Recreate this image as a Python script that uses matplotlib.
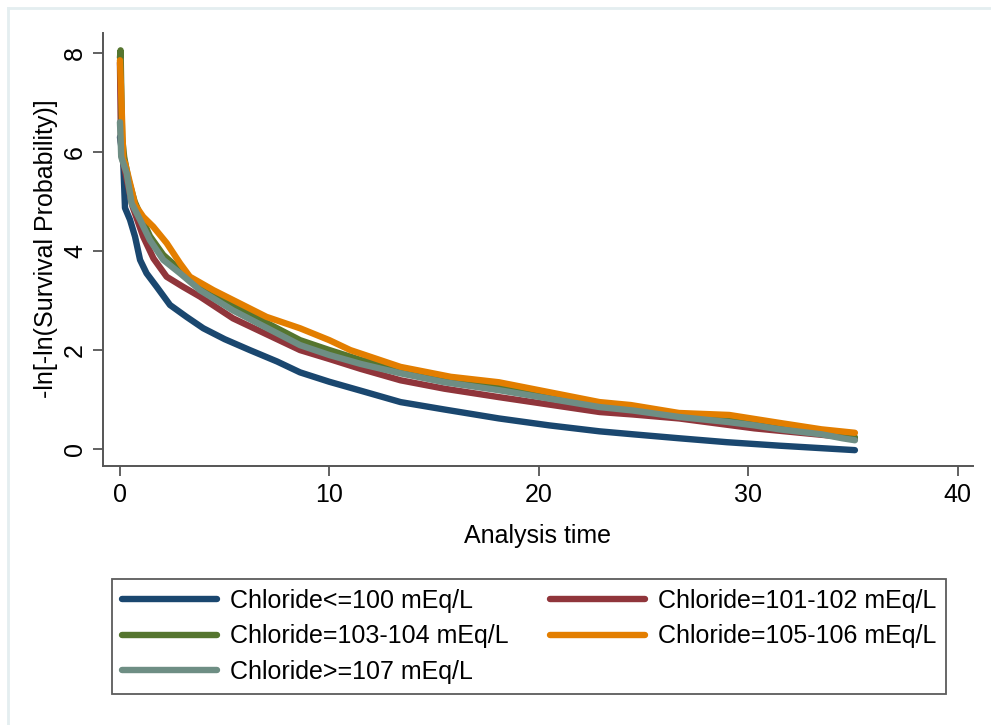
import matplotlib
matplotlib.use("Agg")
import matplotlib.pyplot as plt
from matplotlib.lines import Line2D

plt.rcParams['font.family'] = ['Liberation Sans', 'DejaVu Sans']

# -ln[-ln(S(t))] curves by chloride group
t_le100 = [0, 0.1, 0.16, 0.24, 0.48, 0.72, 0.96, 1.27, 1.75, 2.39, 3.18, 3.98, 5.0, 6.2, 7.5,
           8.6, 10, 11.5, 13.4, 15.5, 18.1, 20.5, 22.9, 24.5, 26.7, 29, 31.5, 33.5, 35.1]
v_le100 = [6.3, 6.0, 5.77, 4.87, 4.63, 4.29, 3.82, 3.55, 3.28, 2.91, 2.67, 2.44, 2.22, 2.0, 1.77,
           1.55, 1.36, 1.18, 0.95, 0.8, 0.62, 0.48, 0.36, 0.3, 0.22, 0.14, 0.07, 0.02, -0.02]

t_101_102 = [0, 0.05, 0.15, 0.3, 0.6, 1.11, 1.6, 2.23, 3.0, 3.82, 5.4, 7.0, 8.6, 10, 11.5,
             13.4, 15.5, 18.1, 20.5, 22.9, 24.5, 26.7, 28.5, 30.3, 32.5, 34.5, 35.1]
v_101_102 = [7.8, 6.2, 5.8, 5.5, 4.9, 4.29, 3.85, 3.48, 3.28, 3.08, 2.64, 2.32, 2.0, 1.82, 1.62,
             1.39, 1.22, 1.05, 0.9, 0.75, 0.7, 0.62, 0.52, 0.42, 0.33, 0.25, 0.2]

t_103_104 = [0, 0.03, 0.1, 0.2, 0.4, 0.7, 1.0, 1.43, 2.07, 2.87, 3.82, 5.4, 7.0, 8.6, 10, 11.5,
             13.4, 15.5, 18.1, 20.5, 22.9, 24.5, 26.7, 29, 31.5, 33.5, 34.5, 35.1]
v_103_104 = [7.9, 8.05, 6.3, 5.9, 5.45, 5.0, 4.7, 4.3, 3.92, 3.62, 3.3, 2.9, 2.55, 2.2, 2.0, 1.8,
             1.6, 1.42, 1.25, 1.08, 0.9, 0.82, 0.7, 0.6, 0.47, 0.37, 0.3, 0.24]

t_105_106 = [0, 0.05, 0.16, 0.24, 0.56, 0.72, 1.11, 1.59, 2.23, 2.87, 3.34, 4.46, 5.73, 7.0,
             8.6, 10, 11.0, 13.4, 15.8, 18.1, 20.5, 22.9, 24.4, 26.7, 29.1, 31.5, 33.5, 35.1]
v_105_106 = [7.85, 7.3, 5.85, 5.78, 5.23, 4.93, 4.69, 4.49, 4.16, 3.75, 3.48, 3.21, 2.94, 2.67,
             2.44, 2.2, 2.0, 1.66, 1.46, 1.35, 1.15, 0.95, 0.89, 0.73, 0.69, 0.53, 0.4, 0.33]

t_ge107 = [0, 0.03, 0.06, 0.32, 0.56, 0.96, 1.43, 2.07, 2.87, 3.82, 5.4, 7.0, 8.6, 10, 11.5,
           13.4, 15.5, 18.1, 20.5, 22.9, 24.5, 26.7, 29, 30.3, 31.5, 33.5, 34.5, 35.1]
v_ge107 = [6.6, 6.3, 5.9, 5.57, 4.96, 4.63, 4.22, 3.82, 3.55, 3.21, 2.8, 2.45, 2.1, 1.9, 1.72,
           1.53, 1.35, 1.19, 1.02, 0.85, 0.78, 0.65, 0.55, 0.48, 0.4, 0.3, 0.22, 0.18]

labels = ["Chloride<=100 mEq/L", "Chloride=101-102 mEq/L", "Chloride=103-104 mEq/L",
          "Chloride=105-106 mEq/L", "Chloride>=107 mEq/L"]
colors = ["#1a476f", "#90353b", "#55752f", "#e37e00", "#6e8e84"]
series = [(t_le100, v_le100), (t_101_102, v_101_102), (t_103_104, v_103_104),
          (t_105_106, v_105_106), (t_ge107, v_ge107)]

x_ticks = [0, 10, 20, 30, 40]
y_ticks = [0, 2, 4, 6, 8]

FS = 18
W, H = 991, 725
fig = plt.figure(figsize=(W / 100, H / 100), dpi=100)
fig.patch.set_facecolor("white")

# faint outer graph-region frame
fig.add_artist(Line2D([7.5 / W, 1.0], [1 - 7.5 / H] * 2, transform=fig.transFigure,
                      color="#e4eef0", lw=2))
fig.add_artist(Line2D([7.5 / W] * 2, [0.0, 1 - 7.5 / H], transform=fig.transFigure,
                      color="#e4eef0", lw=2))

ax = fig.add_axes([103 / W, 1 - 466 / H, 870 / W, 433 / H])
lines = []
for (t, v), c, lab in zip(series, colors, labels):
    ln, = ax.plot(t, v, color=c, lw=4.6, label=lab, solid_capstyle="round",
                  solid_joinstyle="round")
    lines.append(ln)

ax.set_xlim(-0.81, 40.74)
ax.set_ylim(-0.34, 8.4)
ax.set_xticks(x_ticks)
ax.set_yticks(y_ticks)
for s in ["top", "right"]:
    ax.spines[s].set_visible(False)
for s in ["left", "bottom"]:
    ax.spines[s].set_color("#555555")
    ax.spines[s].set_linewidth(1.4)
ax.tick_params(axis="both", colors="#555555", length=7.5, width=1.3, labelsize=FS,
               labelcolor="black")
ax.tick_params(axis="x", pad=5)
ax.tick_params(axis="y", pad=4, labelrotation=90)
for lab in ax.get_yticklabels():
    lab.set_va("center")

fig.text(46 / W, 1 - 249 / H, "-ln[-ln(Survival Probability)]", rotation=90,
         ha="center", va="center", fontsize=FS)
fig.text(538 / W, 1 - 536 / H, "Analysis time", ha="center", va="center", fontsize=FS)

order = [0, 2, 4, 1, 3]
leg = fig.legend([lines[i] for i in order], [labels[i] for i in order], ncol=2,
                 loc="upper left", bbox_to_anchor=(112 / W, 1 - 579 / H),
                 bbox_transform=fig.transFigure, fontsize=FS, handlelength=3.8,
                 handletextpad=0.52, columnspacing=1.64, labelspacing=0.46,
                 borderpad=0.4, borderaxespad=0, fancybox=False, frameon=True)
leg.get_frame().set_edgecolor("#333333")
leg.get_frame().set_linewidth(1.3)

fig.savefig("out.png", dpi=100, facecolor="white")
